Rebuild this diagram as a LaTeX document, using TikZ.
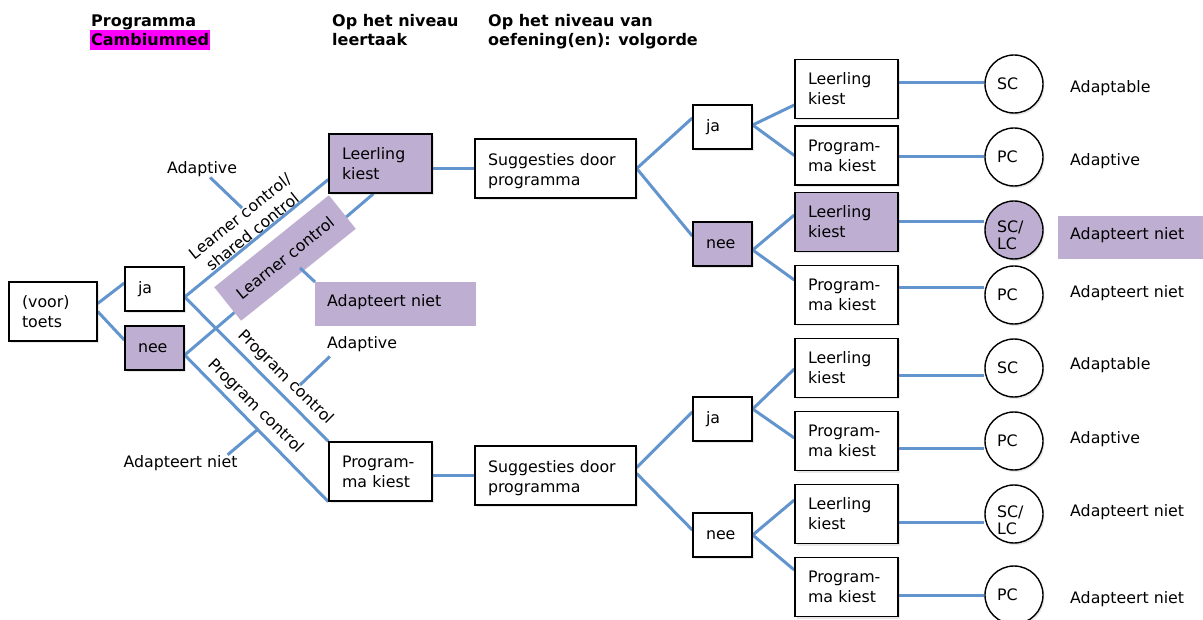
\documentclass[tikz,border=0pt]{standalone}
\usepackage{fontspec}
\setmainfont{DejaVu Sans}
\usetikzlibrary{shadows,backgrounds}
\definecolor{linkblue}{RGB}{98,148,206}
\definecolor{lilac}{RGB}{190,175,210}
\definecolor{hotpink}{RGB}{255,0,255}

\begin{document}
\begin{tikzpicture}[x=1pt,y=-1pt,
  every node/.style={font=\fontsize{15.8}{20}\selectfont},
  hdr/.style={font=\fontsize{16}{19}\selectfont\bfseries, anchor=base west, inner sep=0pt, align=left},
  shd/.style={drop shadow={opacity=0.18, shadow xshift=1.5pt, shadow yshift=-2pt}},
  box/.style={draw=black, line width=1.4pt, fill=white, rectangle, inner xsep=13pt, inner ysep=0pt, align=left, shd},
  smallbox/.style={box, minimum width=59pt, text width=33pt, minimum height=44pt},
  midbox/.style={box, minimum width=103pt, text width=77pt, minimum height=59pt},
  widebox/.style={box, minimum width=161pt, text width=135pt, minimum height=59pt, text height=12pt, text depth=17.6pt},
  testbox/.style={box, minimum width=88pt, text width=62pt, minimum height=59pt},
  endcirc/.style={circle, draw=black, line width=1.4pt, fill=white, minimum size=58pt, inner sep=0pt, text width=34pt, align=left, shd},
  twoline/.style={font=\fontsize{15.8}{17}\selectfont, text height=23pt, text depth=17pt},
  lbl/.style={anchor=base west, inner sep=0pt},
  clbl/.style={anchor=base, inner sep=0pt},
  tag/.style={fill=lilac, anchor=north west, inner xsep=12pt, inner ysep=0pt, align=left, text height=12pt, text depth=8pt},
  link/.style={draw=linkblue, line width=3pt}
]
\useasboundingbox (0,0) rectangle (1203,620);

% column headers
\node[hdr] (h1) at (91,27) {Programma};
\node[hdr, fill=hotpink, inner xsep=1pt, inner ysep=4pt] (h1b) at (90,46) {Cambiumned};
\node[hdr] (h2) at (332,46) {Op het niveau\\leertaak};
\node[hdr] (h3) at (488,46) {Op het niveau van\\oefening(en): volgorde};

% decision tree
\node[testbox] (toets) at (53,311.5) {(voor)\\toets};
\node[smallbox] (jaL) at (154.5,289) {ja};
\node[smallbox, fill=lilac] (neeL) at (154.5,348) {nee};
\node[midbox, fill=lilac] (lkM) at (380.5,163.5) {Leerling\\kiest};
\node[midbox] (pkM) at (380.5,471.5) {Program-\\ma kiest};
\node[widebox] (sugU) at (555.5,168.5) {Suggesties door\\programma};
\node[widebox] (sugD) at (555.5,475.5) {Suggesties door\\programma};
\node[smallbox] (jaU) at (722.5,127) {ja};
\node[smallbox, fill=lilac] (neeU) at (722.5,244) {nee};
\node[smallbox] (jaD) at (722.5,419) {ja};
\node[smallbox] (neeD) at (722.5,535) {nee};

\node[midbox] (rb1) at (846.5,89) {Leerling\\kiest};
\node[midbox] (rb2) at (846.5,155.5) {Program-\\ma kiest};
\node[midbox, fill=lilac] (rb3) at (846.5,222) {Leerling\\kiest};
\node[midbox] (rb4) at (846.5,295) {Program-\\ma kiest};
\node[midbox] (rb5) at (846.5,368) {Leerling\\kiest};
\node[midbox] (rb6) at (846.5,441) {Program-\\ma kiest};
\node[midbox] (rb7) at (846.5,514) {Leerling\\kiest};
\node[midbox] (rb8) at (846.5,587) {Program-\\ma kiest};

\node[endcirc] (c1) at (1014,84) {SC};
\node[endcirc] (c2) at (1014,157) {PC};
\node[endcirc, fill=lilac, twoline] (c3) at (1014,230) {SC/\\LC};
\node[endcirc] (c4) at (1014,295) {PC};
\node[endcirc] (c5) at (1014,368) {SC};
\node[endcirc] (c6) at (1014,441) {PC};
\node[endcirc, twoline] (c7) at (1014,514) {SC/\\LC};
\node[endcirc] (c8) at (1014,595) {PC};

% outcome labels
\node[lbl] (t1) at (1070,93) {Adaptable};
\node[lbl] (t2) at (1070,166) {Adaptive};
\node[tag, minimum width=145pt, text width=121pt, minimum height=43pt] (t3) at (1058,216) {Adapteert niet};
\node[lbl] (t4) at (1070,298) {Adapteert niet};
\node[lbl] (t5) at (1070,370) {Adaptable};
\node[lbl] (t6) at (1070,443) {Adaptive};
\node[lbl] (t7) at (1070,516) {Adapteert niet};
\node[lbl] (t8) at (1070,603) {Adapteert niet};

% branch labels
\node[rotate=38.7, align=center, inner sep=0pt] (lcs) at (246,224) {Learner control/\\shared control};
\node[fill=lilac, rotate=38.7, minimum width=147pt, minimum height=43pt, inner sep=0pt] (lcr) at (285,258) {Learner control};
\node[rotate=-44.6, inner sep=0pt] (pc1) at (285.5,377.5) {Program control};
\node[rotate=-44.6, inner sep=0pt] (pc2) at (255.5,406.5) {Program control};
\node[clbl] (adA) at (202,174) {Adaptive};
\node[clbl] (adB) at (362,349) {Adaptive};
\node[clbl] (anL) at (180.5,467) {Adapteert niet};
\node[tag, minimum width=161pt, text width=137pt, minimum height=44pt] (anP) at (315,282) {Adapteert niet};

\coordinate (aA) at (242,208);
\coordinate (aB) at (300,385);
\coordinate (aL) at (257,430);
\coordinate (lcfoot) at (300,268);

% leader from the learner-control band to its outcome
\draw[link] (lcfoot) -- (anP.north west);

\begin{scope}[on background layer]
  \draw[link] ([yshift=8pt]toets.east) -- ([yshift=6pt]jaL.west);
  \draw[link] (toets.east) -- ([yshift=8pt]neeL.west);
  \draw[link] ([yshift=-8pt]jaL.east) -- ([yshift=-16pt]lkM.west);
  \draw[link] ([yshift=-8pt]jaL.east) -- (pkM.north west);
  \draw[link] ([yshift=-7pt]neeL.east) -- ([xshift=-7pt]lkM.south);
  \draw[link] ([yshift=-7pt]neeL.east) -- (pkM.south west);
  \draw[link] (lkM.east |- sugU.west) -- (sugU.west);
  \draw[link] (pkM.east |- sugD.west) -- (sugD.west);
  \draw[link] (sugU.east) -- ([yshift=9pt]jaU.west);
  \draw[link] (sugU.east) -- ([yshift=8pt]neeU.west);
  \draw[link] ([yshift=8pt]sugD.east) -- ([yshift=7pt]jaD.west);
  \draw[link] ([yshift=2pt]sugD.east) -- ([yshift=5pt]neeD.west);
  \draw[link] ([yshift=2pt]jaU.east) -- ([yshift=-16pt]rb1.west);
  \draw[link] ([yshift=2pt]jaU.east) -- (rb2.west);
  \draw[link] ([yshift=-6pt]neeU.east) -- ([yshift=7pt]rb3.west);
  \draw[link] ([yshift=-6pt]neeU.east) -- ([yshift=15pt]rb4.west);
  \draw[link] ([yshift=10pt]jaD.east) -- ([yshift=-1pt]rb5.west);
  \draw[link] ([yshift=10pt]jaD.east) -- ([yshift=3pt]rb6.west);
  \draw[link] (neeD.east) -- ([yshift=14pt]rb7.west);
  \draw[link] (neeD.east) -- ([yshift=17pt]rb8.west);
  \draw[link] ([yshift=6pt]rb1.east) -- ([yshift=1pt]c1.west);
  \draw[link] ([yshift=-1.5pt]rb2.east) -- (c2.west);
  \draw[link] (rb3.east) -- ([yshift=8pt]c3.west);
  \draw[link] ([yshift=7pt]rb4.east) -- ([yshift=7pt]c4.west);
  \draw[link] ([yshift=-8pt]rb5.east) -- ([yshift=-8pt]c5.west);
  \draw[link] ([yshift=-7pt]rb6.east) -- ([yshift=-7pt]c6.west);
  \draw[link] ([yshift=-8pt]rb7.east) -- ([yshift=-8pt]c7.west);
  \draw[link] ([yshift=-8pt]rb8.east) -- (c8.west);
  % leaders from the branch labels
  \draw[link] (adA) -- (aA);
  \draw[link] ([xshift=3pt,yshift=-4pt]adB.south west) -- (aB);
  \draw[link] ([xshift=-10pt]anL.north east) -- (aL);
\end{scope}
\end{tikzpicture}
\end{document}
